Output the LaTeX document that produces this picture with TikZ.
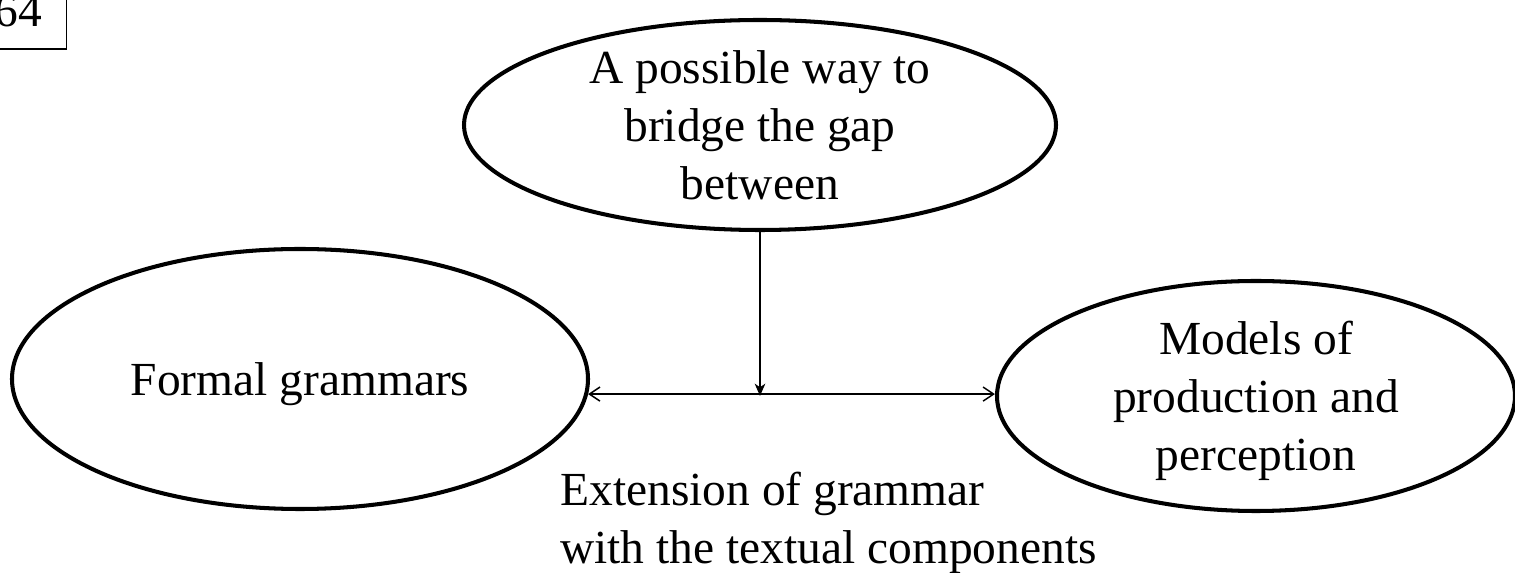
\documentclass[tikz,border=0pt]{standalone}
\usepackage{fontspec}
\setmainfont{Liberation Serif}
\usetikzlibrary{shapes.geometric,arrows.meta}

\begin{document}
\begin{tikzpicture}[font=\fontsize{27}{33}\selectfont,
  oval/.style={ellipse, draw, line width=2.3pt, inner sep=0pt},
  txt/.style={align=center, inner sep=0pt},
  conn/.style={line width=0.85pt}]
\useasboundingbox (0,0) rectangle (30.3,11.46);

\node[draw, line width=0.85pt, inner xsep=0.48cm, inner ysep=0.44cm, anchor=south east] (pagenum) at (1.34,10.46) {64};

\node[oval, minimum width=11.84cm, minimum height=4.2cm] (gap) at (15.2,8.96) {};
\node[txt] (gaptext) at (gap.center) {A possible way to\\bridge the gap\\between};

\node[oval, minimum width=11.52cm, minimum height=5.2cm] (formal) at (6.0,3.88) {};
\node[txt] (formaltext) at ([yshift=-0.1cm]formal.center) {Formal grammars};

\node[oval, minimum width=10.36cm, minimum height=4.6cm] (models) at (25.12,3.54) {};
\node[txt] (modelstext) at ([yshift=-0.1cm]models.center) {Models of\\production and\\perception};

\coordinate (junction) at (gap.south |- models.west);
\draw[conn, {Straight Barb[length=6pt,width=8pt]}-{Straight Barb[length=6pt,width=8pt]}] (formal.-3.4) -- (formal.-3.4 -| models.west);
\draw[conn, -{Stealth[length=7pt,width=6pt,inset=2pt]}] (gap.south) -- (junction);

\node[align=left, inner sep=0pt, anchor=north west] (extension) at (11.2,2.02) {Extension of grammar\\with the textual components};

\end{tikzpicture}
\end{document}
